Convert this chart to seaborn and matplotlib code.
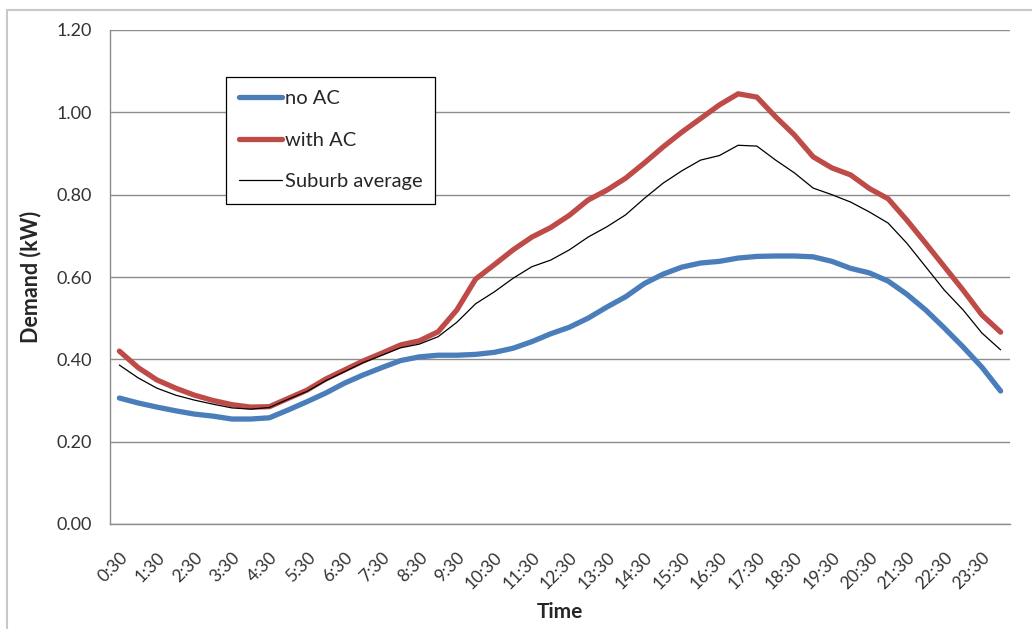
import matplotlib
matplotlib.use("Agg")
import matplotlib.pyplot as plt
from matplotlib.patches import Rectangle
import numpy as np
import pandas as pd
import seaborn as sns

# Half-hourly time slots, 0:30 through midnight
times = ["0:30", "1:00", "1:30", "2:00", "2:30", "3:00", "3:30", "4:00",
         "4:30", "5:00", "5:30", "6:00", "6:30", "7:00", "7:30", "8:00",
         "8:30", "9:00", "9:30", "10:00", "10:30", "11:00", "11:30", "12:00",
         "12:30", "13:00", "13:30", "14:00", "14:30", "15:00", "15:30", "16:00",
         "16:30", "17:00", "17:30", "18:00", "18:30", "19:00", "19:30", "20:00",
         "20:30", "21:00", "21:30", "22:00", "22:30", "23:00", "23:30", "0:00"]

no_ac = [0.306, 0.294, 0.284, 0.275, 0.267, 0.262, 0.255, 0.255,
         0.258, 0.277, 0.297, 0.318, 0.342, 0.362, 0.380, 0.397,
         0.406, 0.410, 0.410, 0.412, 0.417, 0.427, 0.443, 0.462,
         0.478, 0.500, 0.527, 0.552, 0.584, 0.607, 0.624, 0.634,
         0.638, 0.646, 0.650, 0.651, 0.651, 0.649, 0.638, 0.621,
         0.610, 0.590, 0.558, 0.520, 0.476, 0.430, 0.381, 0.323]

with_ac = [0.420, 0.380, 0.350, 0.330, 0.313, 0.300, 0.290, 0.284,
           0.285, 0.305, 0.325, 0.352, 0.374, 0.396, 0.415, 0.435,
           0.445, 0.467, 0.520, 0.595, 0.630, 0.666, 0.697, 0.720,
           0.750, 0.787, 0.811, 0.840, 0.877, 0.916, 0.952, 0.985,
           1.018, 1.045, 1.037, 0.989, 0.945, 0.892, 0.865, 0.848,
           0.815, 0.790, 0.738, 0.682, 0.625, 0.568, 0.508, 0.466]

suburb_avg = [0.386, 0.355, 0.330, 0.313, 0.301, 0.291, 0.282, 0.279,
              0.283, 0.303, 0.322, 0.348, 0.370, 0.392, 0.410, 0.428,
              0.437, 0.455, 0.490, 0.535, 0.564, 0.597, 0.625, 0.641,
              0.666, 0.697, 0.722, 0.751, 0.791, 0.828, 0.858, 0.884,
              0.895, 0.920, 0.918, 0.884, 0.853, 0.816, 0.800, 0.782,
              0.758, 0.731, 0.682, 0.625, 0.568, 0.520, 0.464, 0.423]

series_names = ["no AC", "with AC", "Suburb average"]
series_colors = ["#4A7EBB", "#BE4B48", "#000000"]
series_widths = [3.8, 3.8, 0.9]

y_ticks = [0.0, 0.2, 0.4, 0.6, 0.8, 1.0, 1.2]

sns.set_style("white")
plt.rcParams["font.family"] = ["Lato", "DejaVu Sans"]

slot = np.arange(len(times))
frames = []
for name, vals in zip(series_names, [no_ac, with_ac, suburb_avg]):
    frames.append(pd.DataFrame({"slot": slot, "Demand": vals, "series": name}))
df = pd.concat(frames, ignore_index=True)

fig = plt.figure(figsize=(10.32, 6.29), dpi=100)
ax = fig.add_axes([110 / 1032, 1 - 524 / 629, 900 / 1032, 494 / 629])

for name, color, lw in zip(series_names, series_colors, series_widths):
    sns.lineplot(data=df[df["series"] == name], x="slot", y="Demand",
                 color=color, linewidth=lw, label=name, ax=ax,
                 solid_capstyle="round", solid_joinstyle="round")

ax.set_xlim(-0.5, len(times) - 0.5)
ax.set_ylim(0, 1.2)
ax.set_yticks(y_ticks)
ax.set_yticklabels([f"{v:.2f}" for v in y_ticks], fontsize=13, color="#333333")
ax.yaxis.grid(True, color="#8c8c8c", linewidth=1.0)
ax.set_axisbelow(True)

ax.set_xticks(slot[::2])
ax.set_xticklabels(times[::2], rotation=45, ha="right", rotation_mode="anchor",
                   fontsize=12.5, color="#333333")
ax.set_xticks(np.arange(-0.5, len(times), 1.0), minor=True)
ax.tick_params(axis="x", which="major", length=0, pad=18)
ax.tick_params(axis="x", which="minor", length=4, color="#8c8c8c", width=0.8,
               direction="out")
ax.tick_params(axis="y", which="major", length=5, color="#8c8c8c", width=0.8,
               direction="out", pad=8)

for side in ["top", "right"]:
    ax.spines[side].set_visible(False)
for side in ["left", "bottom"]:
    ax.spines[side].set_color("#8c8c8c")
    ax.spines[side].set_linewidth(1.0)

ax.set_xlabel("Time", fontsize=15, fontweight="bold", labelpad=7)
ax.set_ylabel("Demand (kW)", fontsize=15.5, fontweight="bold", labelpad=11)

leg = ax.legend(loc="upper left", bbox_to_anchor=(0.129, 0.905),
                borderaxespad=0, fancybox=False, framealpha=1,
                edgecolor="#000000", fontsize=14.5, handlelength=2.15,
                handletextpad=0.1, labelspacing=1.22, borderpad=0.65)
leg.get_frame().set_linewidth(0.9)

# Chart-area outline
fig.patches.append(Rectangle((7 / 1032, -0.05), 1.1, 1 - 10 / 629 + 0.05,
                             transform=fig.transFigure, fill=False,
                             edgecolor="#c8c8c8", linewidth=1.5))

fig.savefig("out.png", dpi=100, facecolor="white")
